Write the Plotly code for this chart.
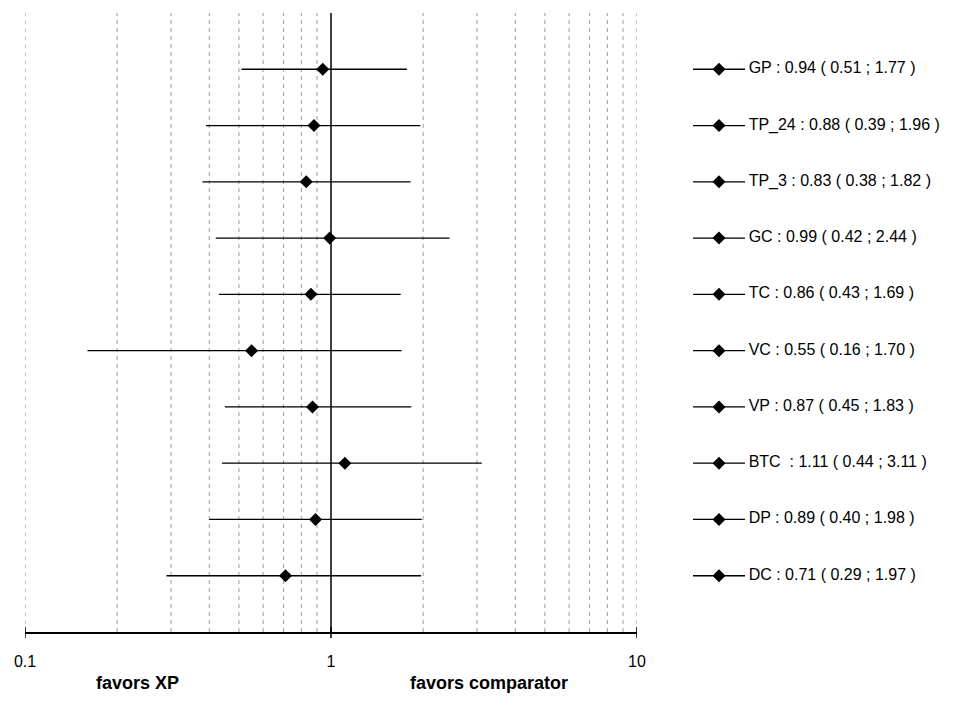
import plotly.graph_objects as go

# ---- data ----
labels = ["GP", "TP_24", "TP_3", "GC", "TC", "VC", "VP", "BTC", "DP", "DC"]
estimates = [0.94, 0.88, 0.83, 0.99, 0.86, 0.55, 0.87, 1.11, 0.89, 0.71]
lower = [0.51, 0.39, 0.38, 0.42, 0.43, 0.16, 0.45, 0.44, 0.40, 0.29]
upper = [1.77, 1.96, 1.82, 2.44, 1.69, 1.70, 1.83, 3.11, 1.98, 1.97]
legend_texts = [
    "GP : 0.94 ( 0.51 ; 1.77 )",
    "TP_24 : 0.88 ( 0.39 ; 1.96 )",
    "TP_3 : 0.83 ( 0.38 ; 1.82 )",
    "GC : 0.99 ( 0.42 ; 2.44 )",
    "TC : 0.86 ( 0.43 ; 1.69 )",
    "VC : 0.55 ( 0.16 ; 1.70 )",
    "VP : 0.87 ( 0.45 ; 1.83 )",
    "BTC  : 1.11 ( 0.44 ; 3.11 )",
    "DP : 0.89 ( 0.40 ; 1.98 )",
    "DC : 0.71 ( 0.29 ; 1.97 )",
]
tick_values = [0.1, 1, 10]
tick_labels = ["0.1", "1", "10"]
grid_values = [0.1, 0.2, 0.3, 0.4, 0.5, 0.6, 0.7, 0.8, 0.9, 2, 3, 4, 5, 6, 7, 8, 9, 10]
null_value = 1
left_note = "favors XP"
right_note = "favors comparator"

n = len(labels)
ypos = [n - i for i in range(n)]

# page body has an 8px margin, so the figure is offset by 8px
OFF = 8
W, H = 956 - OFF, 713 - OFF
ML, MT = 25 - OFF, 13 - OFF
PLOT_BOTTOM = 632 - OFF
MB = H - PLOT_BOTTOM
MR = 10
PW = W - ML - MR
PH = H - MT - MB
def px(x):
    return (x - OFF - ML) / PW
def py(y):
    return (PLOT_BOTTOM - (y - OFF)) / PH

FONT = "Liberation Sans, Arial"

# key axis: line spans 0..1 (52 px), text starts a little to the right
KEY_LEFT, KEY_LEN, KEY_MAX = 693, 52, 1.1

fig = go.Figure()

# dashed grid lines
for g in grid_values:
    fig.add_shape(type="line", xref="x", yref="y domain", x0=g, x1=g, y0=0, y1=1,
                  line=dict(color="#9a9a9a", width=1, dash="4px,4px"), layer="below")

# null line
fig.add_shape(type="line", xref="x", yref="y domain", x0=null_value, x1=null_value,
              y0=0, y1=1, line=dict(color="black", width=1.5), layer="below")

# tick marks crossing the axis line
for tv in tick_values:
    fig.add_shape(type="line", xref="x", yref="y domain", x0=tv, x1=tv,
                  ysizemode="pixel", yanchor=0, y0=-6, y1=5,
                  line=dict(color="black", width=1.5))

fig.add_trace(go.Scatter(
    x=estimates, y=ypos, mode="markers",
    marker=dict(symbol="diamond", size=10, color="black"),
    error_x=dict(type="data", symmetric=False,
                 array=[u - e for u, e in zip(upper, estimates)],
                 arrayminus=[e - l for e, l in zip(estimates, lower)],
                 width=0, thickness=1.3, color="black"),
    showlegend=False, hoverinfo="skip",
))

# legend-like key on right
for t, y in zip(legend_texts, ypos):
    fig.add_trace(go.Scatter(
        x=[0, 1], y=[y, y], mode="lines", xaxis="x2", yaxis="y",
        line=dict(color="black", width=1.3), showlegend=False, hoverinfo="skip"))
    fig.add_trace(go.Scatter(
        x=[0.5], y=[y], mode="markers", xaxis="x2", yaxis="y",
        marker=dict(symbol="diamond", size=10, color="black"),
        showlegend=False, hoverinfo="skip"))
    fig.add_trace(go.Scatter(
        x=[1.07], y=[y], mode="text", text=[t], textposition="middle right",
        xaxis="x2", yaxis="y", cliponaxis=False,
        textfont=dict(family=FONT, size=16, color="black"),
        showlegend=False, hoverinfo="skip"))

fig.add_annotation(text="<b>" + left_note + "</b>", xref="paper", yref="paper",
                   x=px(137), y=py(683), xanchor="center", yanchor="middle",
                   showarrow=False, font=dict(family=FONT, size=18, color="black"))
fig.add_annotation(text="<b>" + right_note + "</b>", xref="paper", yref="paper",
                   x=px(489), y=py(683), xanchor="center", yanchor="middle",
                   showarrow=False, font=dict(family=FONT, size=18, color="black"))

fig.update_layout(
    width=W, height=H,
    margin=dict(l=ML, r=MR, t=MT, b=MB, autoexpand=False),
    plot_bgcolor="white", paper_bgcolor="white",
    xaxis=dict(type="log", range=[-1, 1], domain=[0, px(637)], automargin=False,
               tickvals=tick_values, ticktext=tick_labels,
               showgrid=False, zeroline=False,
               showline=True, linecolor="black", linewidth=1.5,
               ticks="", ticklabelstandoff=14,
               tickfont=dict(family=FONT, size=16, color="black")),
    xaxis2=dict(domain=[px(KEY_LEFT), px(KEY_LEFT + KEY_LEN * KEY_MAX)],
                range=[0, KEY_MAX], anchor="y",
                visible=False, showgrid=False, zeroline=False),
    yaxis=dict(range=[0, n + 1], visible=False, showgrid=False, zeroline=False,
               automargin=False),
    font=dict(family=FONT),
)

fig.write_html("out.html")
